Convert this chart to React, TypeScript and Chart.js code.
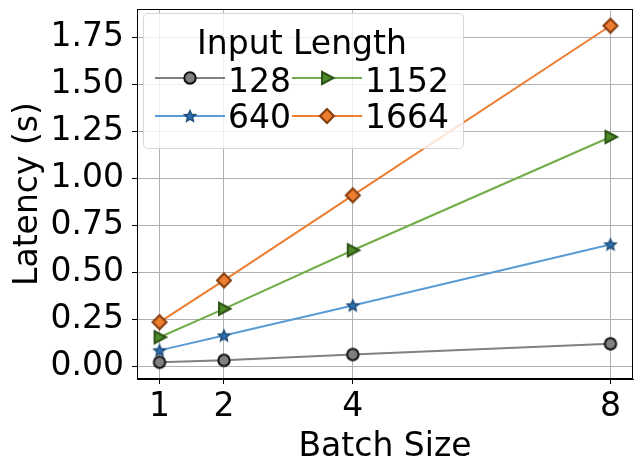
import React, { useEffect, useRef } from "react";
import { Chart, registerables } from "chart.js";

Chart.register(...registerables);

const batchSizes = [1, 2, 4, 8];
const xTickValues = [1, 2, 4, 8];
const yTickValues = [0, 0.25, 0.5, 0.75, 1.0, 1.25, 1.5, 1.75];
const seriesLabels = ["128", "640", "1152", "1664"];
const lat128 = [0.024, 0.034, 0.065, 0.122];
const lat640 = [0.087, 0.166, 0.326, 0.65];
const lat1152 = [0.157, 0.308, 0.619, 1.221];
const lat1664 = [0.237, 0.459, 0.911, 1.812];
const legendTitle = "Input Length";
const xTitle = "Batch Size";
const yTitle = "Latency (s)";

const FONT = "'DejaVu Sans', sans-serif";

function makeMarker(kind: string, fill: string, edge: string): HTMLCanvasElement {
  const s = 20;
  const c = document.createElement("canvas");
  c.width = s;
  c.height = s;
  const ctx = c.getContext("2d")!;
  const cx = s / 2, cy = s / 2;
  ctx.fillStyle = fill;
  ctx.strokeStyle = edge;
  ctx.lineWidth = 2;
  ctx.lineJoin = "miter";
  ctx.beginPath();
  if (kind === "circle") {
    ctx.arc(cx, cy, 5.7, 0, Math.PI * 2);
  } else if (kind === "star") {
    const R = 5.8, r = 2.7;
    for (let i = 0; i < 10; i++) {
      const rad = i % 2 === 0 ? R : r;
      const a = -Math.PI / 2 + (i * Math.PI) / 5;
      const px = cx + rad * Math.cos(a);
      const py = cy + 0.5 + rad * Math.sin(a);
      if (i === 0) ctx.moveTo(px, py);
      else ctx.lineTo(px, py);
    }
    ctx.closePath();
    ctx.lineWidth = 1.5;
  } else if (kind === "triangle") {
    ctx.moveTo(cx + 6.5, cy);
    ctx.lineTo(cx - 5, cy - 6);
    ctx.lineTo(cx - 5, cy + 6);
    ctx.closePath();
  } else if (kind === "diamond") {
    ctx.moveTo(cx, cy - 7);
    ctx.lineTo(cx + 7, cy);
    ctx.lineTo(cx, cy + 7);
    ctx.lineTo(cx - 7, cy);
    ctx.closePath();
  }
  ctx.fill();
  ctx.stroke();
  return c;
}

export default function App() {
  const ref = useRef<HTMLCanvasElement | null>(null);

  useEffect(() => {
    document.body.style.margin = "0";
    const canvas = ref.current!;
    const markers = [
      makeMarker("circle", "#808080", "#111111"),
      makeMarker("star", "#2e6fb0", "#1f4e79"),
      makeMarker("triangle", "#4f8a2a", "#2f5418"),
      makeMarker("diamond", "#ed7d31", "#843c0c"),
    ];
    const lineColors = ["#808080", "#5b9bd5", "#70ad47", "#ed7d31"];
    const allData = [lat128, lat640, lat1152, lat1664];

    const datasets = allData.map((arr, i) => ({
      label: seriesLabels[i],
      data: arr.map((v, j) => ({ x: batchSizes[j], y: v })),
      borderColor: lineColors[i],
      backgroundColor: lineColors[i],
      borderWidth: 2,
      pointStyle: markers[i] as any,
      pointRadius: 6,
      tension: 0,
    }));

    const framePlugin = {
      id: "frameAndLegend",
      afterDraw(chart: any) {
        const { ctx, chartArea } = chart;
        ctx.save();
        ctx.strokeStyle = "#000";
        ctx.lineWidth = 1;
        ctx.strokeRect(
          Math.round(chartArea.left) + 0.5,
          Math.round(chartArea.top) + 0.5,
          Math.round(chartArea.right - chartArea.left) - 1,
          Math.round(chartArea.bottom - chartArea.top) - 1
        );
        // legend
        const bx = 143.5, by = 13.5, bw = 320, bh = 135, rr = 5;
        ctx.beginPath();
        ctx.moveTo(bx + rr, by);
        ctx.lineTo(bx + bw - rr, by);
        ctx.quadraticCurveTo(bx + bw, by, bx + bw, by + rr);
        ctx.lineTo(bx + bw, by + bh - rr);
        ctx.quadraticCurveTo(bx + bw, by + bh, bx + bw - rr, by + bh);
        ctx.lineTo(bx + rr, by + bh);
        ctx.quadraticCurveTo(bx, by + bh, bx, by + bh - rr);
        ctx.lineTo(bx, by + rr);
        ctx.quadraticCurveTo(bx, by, bx + rr, by);
        ctx.closePath();
        ctx.fillStyle = "rgba(255,255,255,0.8)";
        ctx.fill();
        ctx.strokeStyle = "#d6d6d6";
        ctx.lineWidth = 1;
        ctx.stroke();

        ctx.fillStyle = "#000";
        ctx.font = `33px ${FONT}`;
        ctx.textAlign = "center";
        ctx.textBaseline = "alphabetic";
        ctx.fillText(legendTitle, 302, 54);

        const cols = [155, 292];
        const rows = [78, 116];
        const baselines = [92, 128];
        const order = [0, 1, 2, 3];
        order.forEach((di, k) => {
          const col = Math.floor(k / 2);
          const row = k % 2;
          const x0 = cols[col];
          const y = rows[row];
          ctx.strokeStyle = lineColors[di];
          ctx.lineWidth = 2;
          ctx.beginPath();
          ctx.moveTo(x0, y);
          ctx.lineTo(x0 + 70, y);
          ctx.stroke();
          const m = markers[di];
          ctx.drawImage(m, x0 + 35 - m.width / 2, y - m.height / 2);
          ctx.fillStyle = "#000";
          ctx.textAlign = "left";
          ctx.fillText(seriesLabels[di], x0 + 73, baselines[row]);
        });
        ctx.restore();
      },
    };

    const chart = new Chart(canvas, {
      type: "line",
      data: { datasets: datasets as any },
      plugins: [framePlugin],
      options: {
        animation: false,
        responsive: false,
        maintainAspectRatio: false,
        layout: { padding: { top: 9, right: 9, left: 0, bottom: 0 } },
        plugins: { legend: { display: false }, tooltip: { enabled: false } },
        scales: {
          x: {
            type: "linear",
            min: 0.65,
            max: 8.35,
            afterBuildTicks: (scale: any) => {
              scale.ticks = xTickValues.map((v) => ({ value: v }));
            },
            afterFit: (scale: any) => {
              scale.height = 93;
              scale.paddingLeft = 0;
              scale.paddingRight = 0;
            },
            ticks: {
              color: "#000",
              font: { family: FONT, size: 33 },
              padding: 4,
              maxRotation: 0,
              autoSkip: false,
              callback: (v: any) => String(v),
            },
            grid: { color: "#b0b0b0", lineWidth: 1, tickLength: 5, tickColor: "#000" },
            border: { display: true, color: "#000", width: 1 },
            title: {
              display: true,
              text: xTitle,
              color: "#000",
              font: { family: FONT, size: 33 },
              padding: { top: 0, bottom: 5 },
            },
          },
          y: {
            type: "linear",
            min: -0.065,
            max: 1.901,
            afterBuildTicks: (scale: any) => {
              scale.ticks = yTickValues.map((v) => ({ value: v }));
            },
            afterFit: (scale: any) => {
              scale.width = 137;
              scale.paddingTop = 0;
              scale.paddingBottom = 0;
            },
            ticks: {
              color: "#000",
              font: { family: FONT, size: 33 },
              padding: 8,
              autoSkip: false,
              callback: (v: any) => Number(v).toFixed(2),
            },
            grid: { color: "#b0b0b0", lineWidth: 1, tickLength: 5, tickColor: "#000" },
            border: { display: true, color: "#000", width: 1 },
            title: {
              display: true,
              text: yTitle,
              color: "#000",
              font: { family: FONT, size: 33 },
              padding: { top: 9, bottom: 0 },
            },
          },
        },
      },
    });
    return () => chart.destroy();
  }, []);

  return (
    <div style={{ position: "relative", width: 642, height: 472 }}>
      <canvas ref={ref} width={642} height={472} style={{ width: 642, height: 472, display: "block" }} />
    </div>
  );
}
